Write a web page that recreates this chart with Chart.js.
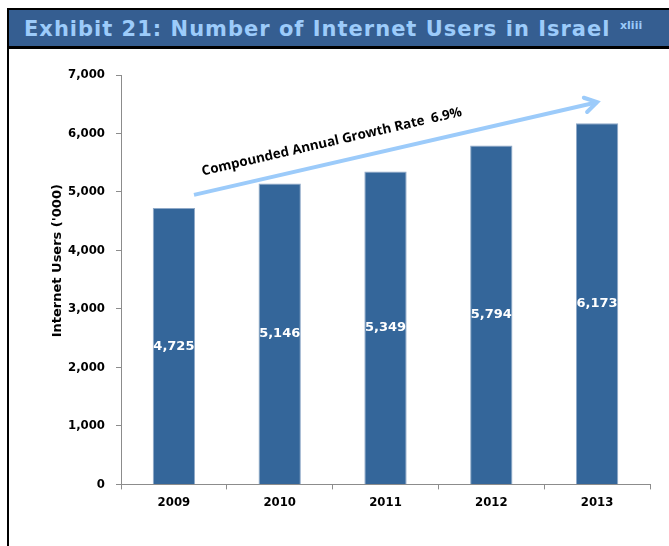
<!DOCTYPE html>
<html>
<head>
<meta charset="utf-8">
<script src="https://cdn.jsdelivr.net/npm/chart.js@4/dist/chart.umd.min.js"></script>
<style>
  html, body { margin: 0; padding: 0; background: #fff; }
  body { width: 669px; height: 546px; position: relative; overflow: hidden; }
  #cabecera {
    position: absolute; left: 7px; top: 8px; width: 662px; height: 36px;
    background: #355E91; border-top: 2px solid #000; border-bottom: 3px solid #000;
    z-index: 2;
  }
  #cabecera span.tit {
    position: absolute; left: 17px; top: 7px; line-height: normal;
    font: bold 21px "DejaVu Sans", sans-serif; letter-spacing: 1px;
    color: #9CCBFA; white-space: nowrap;
  }
  #cabecera span.sup {
    position: absolute; left: 613px; top: 9px;
    font: bold 11px "DejaVu Sans", sans-serif; color: #9CCBFA;
  }
  #borde { position: absolute; left: 7px; top: 8px; width: 2px; height: 540px; background: #000; z-index: 3; }
  #lienzo { position: absolute; left: 0; top: 0; z-index: 1; }
</style>
</head>
<body>
<div id="cabecera"><span class="tit">Exhibit 21: Number of Internet Users in Israel</span><span class="sup">xliii</span></div>
<div id="borde"></div>
<canvas id="lienzo" width="669" height="546"></canvas>
<script>
'use strict';

// ─── Datos ────────────────────────────────────────────────────────────────────
const ANYOS    = ['2009', '2010', '2011', '2012', '2013'];
const USUARIOS = [4725, 5146, 5349, 5794, 6173];
const Y_TICKS  = [0, 1000, 2000, 3000, 4000, 5000, 6000, 7000];

// flecha CAGR en coordenadas de datos: [índice categoría, valor]
const FLECHA_INI = [0.19, 4950];
const FLECHA_FIN = [4.0, 6535];
const TEXTO_CAGR = 'Compounded Annual Growth Rate  6.9%';
const TITULO_Y   = "Internet Users ('000)";

const AZUL_BARRA = '#34669A';
const AZUL_CLARO = '#9CCBFA';
const FUENTE     = '"DejaVu Sans Condensed", "DejaVu Sans", sans-serif';

function formatMiles(v) {
    return Number(v).toLocaleString('en-US');
}

// ─── Plugin: etiquetas dentro de las barras, flecha y título del eje Y ────────
const extras = {
    id: 'extras',
    afterDatasetsDraw(chart) {
        const ctx  = chart.ctx;
        const meta = chart.getDatasetMeta(0);
        const x = chart.scales.x, y = chart.scales.y;

        // valores dentro de la barra
        ctx.save();
        ctx.fillStyle = '#fff';
        ctx.font = 'bold 13px "DejaVu Sans", sans-serif';
        ctx.textAlign = 'center';
        ctx.textBaseline = 'middle';
        meta.data.forEach(function (bar, i) {
            const yMid = y.getPixelForValue(USUARIOS[i] / 2);
            ctx.fillText(formatMiles(USUARIOS[i]), bar.x, yMid);
        });
        ctx.restore();

        // flecha
        const x0 = x.getPixelForValue(FLECHA_INI[0]), y0 = y.getPixelForValue(FLECHA_INI[1]);
        const x1 = x.getPixelForValue(FLECHA_FIN[0]), y1 = y.getPixelForValue(FLECHA_FIN[1]);
        const ang = Math.atan2(y1 - y0, x1 - x0);
        ctx.save();
        ctx.strokeStyle = AZUL_CLARO;
        ctx.lineWidth = 4;
        ctx.lineCap = 'butt';
        ctx.beginPath();
        ctx.moveTo(x0, y0);
        ctx.lineTo(x1, y1);
        ctx.stroke();
        ctx.lineCap = 'round';
        ctx.lineJoin = 'miter';
        ctx.beginPath();
        ctx.moveTo(x1 - 14 * Math.cos(ang - 0.55), y1 - 14 * Math.sin(ang - 0.55));
        ctx.lineTo(x1, y1);
        ctx.lineTo(x1 - 14 * Math.cos(ang + 0.55), y1 - 14 * Math.sin(ang + 0.55));
        ctx.stroke();

        // texto CAGR paralelo a la flecha
        ctx.translate(x0, y0);
        ctx.rotate(ang);
        ctx.fillStyle = '#000';
        ctx.font = 'bold 13.4px "Open Sans", sans-serif';
        ctx.textAlign = 'left';
        ctx.textBaseline = 'alphabetic';
        ctx.fillText(TEXTO_CAGR, 13, -17);
        ctx.restore();

        // título eje Y
        const area = chart.chartArea;
        ctx.save();
        ctx.translate(58, (area.top + area.bottom) / 2 - 19);
        ctx.rotate(-Math.PI / 2);
        ctx.fillStyle = '#000';
        ctx.font = 'bold 13px "DejaVu Sans", sans-serif';
        ctx.textAlign = 'center';
        ctx.textBaseline = 'middle';
        ctx.fillText(TITULO_Y, 0, 0);
        ctx.restore();
    }
};

// ─── Gráfico ──────────────────────────────────────────────────────────────────
new Chart(document.getElementById('lienzo').getContext('2d'), {
    type: 'bar',
    data: {
        labels: ANYOS,
        datasets: [{
            data: USUARIOS,
            backgroundColor: AZUL_BARRA,
            borderColor: '#8FA9C8',
            borderWidth: 1,
            barPercentage: 0.4,
            categoryPercentage: 1.0,
        }],
    },
    options: {
        responsive: false,
        animation: false,
        layout: { padding: { top: 75, right: 19, bottom: 31, left: 0 } },
        plugins: { legend: { display: false }, tooltip: { enabled: false } },
        scales: {
            x: {
                grid: { drawOnChartArea: false, tickLength: 5, color: '#8C8C8C', offset: true },
                border: { color: '#8C8C8C', width: 1 },
                ticks: { color: '#000', font: { family: FUENTE, size: 13, weight: 'bold' }, padding: 5 },
            },
            y: {
                min: 0, max: 7000,
                afterBuildTicks: function (scale) {
                    scale.ticks = Y_TICKS.map(function (v) { return { value: v }; });
                },
                afterFit: function (scale) { scale.width = 121; },
                grid: { drawOnChartArea: false, tickLength: 5, color: '#8C8C8C' },
                border: { color: '#8C8C8C', width: 1 },
                ticks: {
                    color: '#000', padding: 11,
                    font: { family: FUENTE, size: 13, weight: 'bold' },
                    callback: function (v) { return formatMiles(v); },
                },
            },
        },
    },
    plugins: [extras],
});
</script>
</body>
</html>
